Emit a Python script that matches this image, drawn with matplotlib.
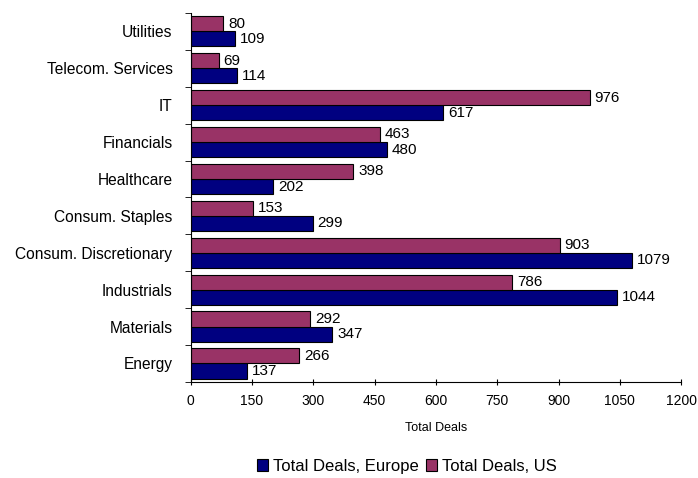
import numpy as np
import matplotlib
matplotlib.use("Agg")
import matplotlib.pyplot as plt
from matplotlib.ticker import FixedLocator

plt.rcParams['font.family'] = ['Liberation Sans', 'DejaVu Sans']

# categories listed bottom to top
sectors = ['Energy', 'Materials', 'Industrials', 'Consum. Discretionary',
           'Consum. Staples', 'Healthcare', 'Financials', 'IT',
           'Telecom. Services', 'Utilities']
deals_europe = [137, 347, 1044, 1079, 299, 202, 480, 617, 114, 109]
deals_us = [266, 292, 786, 903, 153, 398, 463, 976, 69, 80]
x_ticks = [0, 150, 300, 450, 600, 750, 900, 1050, 1200]

col_eu = '#000080'
col_us = '#993366'

fig = plt.figure(figsize=(6.98, 4.78), dpi=100)
ax = fig.add_axes([0.273, 0.201, 0.703, 0.772])

y = np.arange(len(sectors))
h = 0.41
b_eu = ax.barh(y - h / 2, deals_europe, height=h, color=col_eu,
               edgecolor='black', linewidth=0.8, label='Total Deals, Europe')
b_us = ax.barh(y + h / 2, deals_us, height=h, color=col_us,
               edgecolor='black', linewidth=0.8, label='Total Deals, US')

for bars in (b_eu, b_us):
    for r in bars:
        w = r.get_width()
        ax.text(w + 12, r.get_y() + r.get_height() / 2, str(int(w)),
                va='center', ha='left', fontsize=11)

ax.set_xlim(0, 1200)
ax.set_ylim(-0.5, len(sectors) - 0.5)
ax.set_xticks(x_ticks)
ax.set_xticklabels([str(t) for t in x_ticks], fontsize=10)
ax.set_yticks(y)
ax.set_yticklabels(sectors, fontsize=11.2)
ax.yaxis.set_minor_locator(FixedLocator(np.arange(-0.5, len(sectors), 1)))
ax.tick_params(axis='y', which='major', length=0, pad=13)
ax.tick_params(axis='y', which='minor', length=4, direction='out')
ax.tick_params(axis='x', length=4, direction='inout', pad=7)
ax.set_xlabel('Total Deals', fontsize=9, labelpad=10)

for s in ['top', 'right']:
    ax.spines[s].set_visible(False)
for s in ['left', 'bottom']:
    ax.spines[s].set_color('black')
    ax.spines[s].set_linewidth(0.8)

fig.legend(handles=[b_eu, b_us], loc='center', bbox_to_anchor=(0.583, 0.024),
           ncol=2, frameon=False, fontsize=12, handlelength=0.7,
           handleheight=0.7, handletextpad=0.3, columnspacing=0.4)

fig.savefig('out.png', dpi=100)
